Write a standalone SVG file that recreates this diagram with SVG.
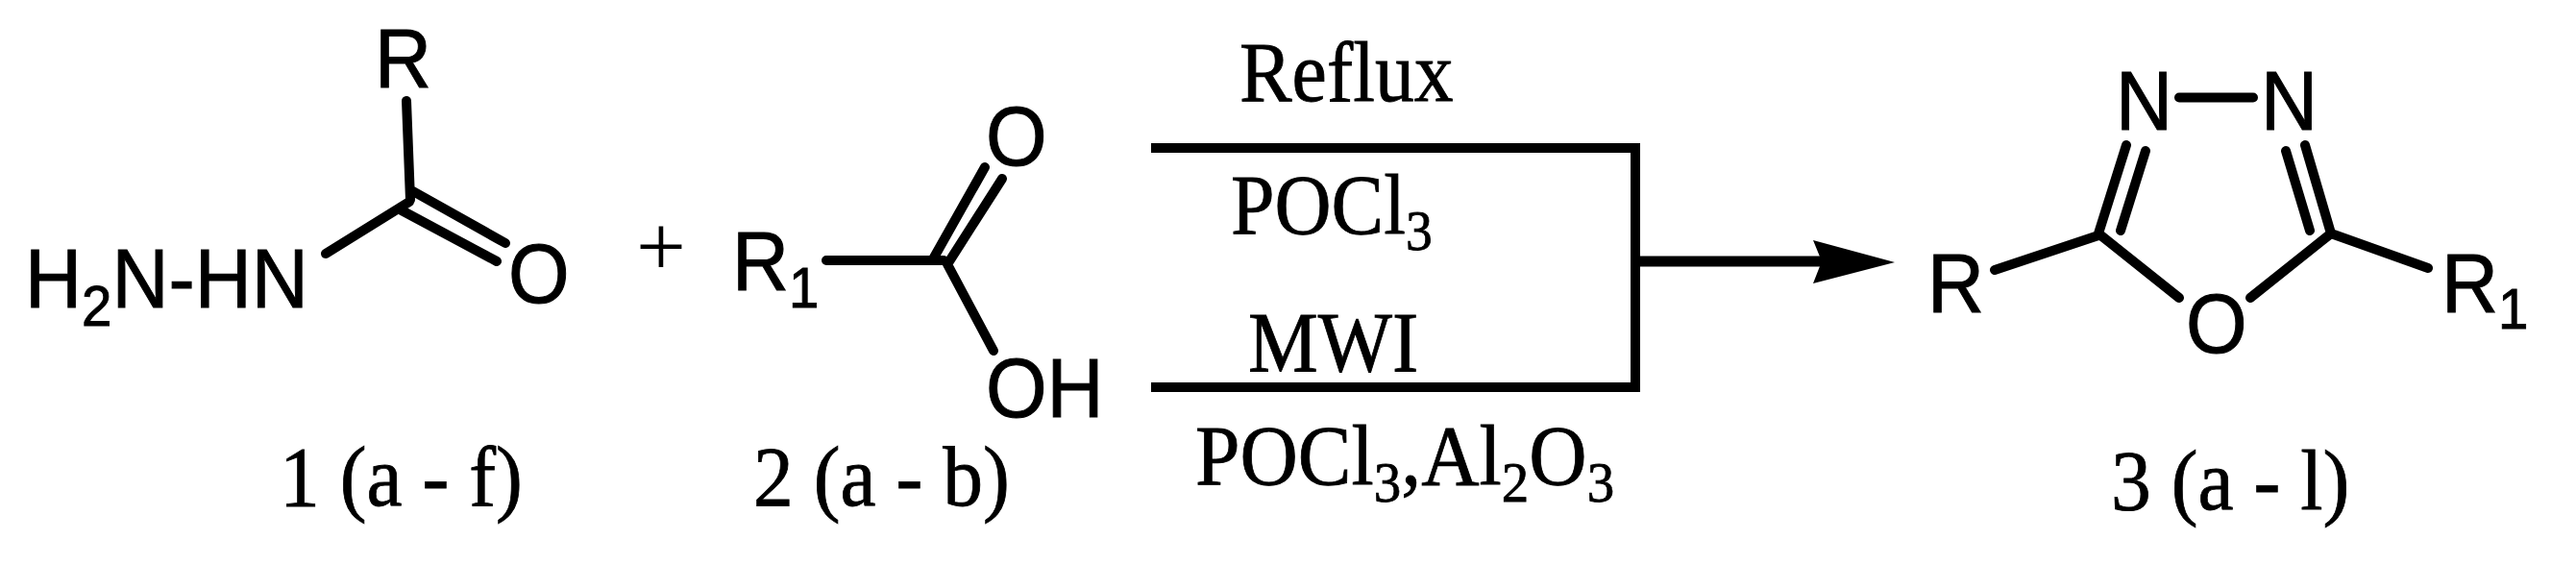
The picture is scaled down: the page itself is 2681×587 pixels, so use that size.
<svg xmlns="http://www.w3.org/2000/svg" width="2681" height="587" viewBox="0 0 2681 587">
<style>
.a{font-family:"Liberation Sans",Arial,sans-serif;font-size:87px;fill:#000;stroke:#000;stroke-width:1}
.t{font-family:"Liberation Serif","Times New Roman",serif;font-size:88px;fill:#000;stroke:#000;stroke-width:.8}
.s{font-size:60px}
.b{stroke:#000;stroke-width:10;fill:none;stroke-linecap:round}
</style>
<rect width="2681" height="587" fill="#fff"/>
<g id="connectors" class="b">
<path d="M423 105L427 208M426 210L339 264M428 198L526 253M418 219L517 272"/>
<path d="M860 271H982M972 268L1025 174M988 272L1043 186M986 275L1034 365"/>
<path d="M1198 154H1702V403H1198" stroke-linecap="butt" stroke-linejoin="miter"/>
<path d="M1702 272H1897" stroke-linecap="butt" stroke-width="11"/>
<path d="M2076 281L2184 245M2184 243L2268 310M2426 243L2342 310M2426 243L2527 279M2268 101.5H2345M2184 243L2213 151M2207 240L2233 157M2426 243L2399 151M2404 240L2379 157"/>
</g>
<path id="arrowhead" d="M1972 273L1887 250L1896 272L1887 295Z" fill="#000"/>
<g id="compound-1">
<text class="a" transform="matrix(.94 0 0 1 390 91)">R</text>
<text class="a" transform="matrix(.94 0 0 1 26 320)">H<tspan class="s" dy="19">2</tspan><tspan dy="-19">N-HN</tspan></text>
<text class="a" transform="matrix(.94 0 0 1 529 315)">O</text>
<text class="t" transform="matrix(.95 0 0 1 291 526)">1 (a - f)</text>
</g>
<text id="plus" class="t" style="font-size:92px;stroke:none" x="662" y="287">+</text>
<g id="compound-2">
<text class="a" transform="matrix(.94 0 0 1 762 302)">R<tspan class="s" dy="18">1</tspan></text>
<text class="a" transform="matrix(.94 0 0 1 1026 172)">O</text>
<text class="a" transform="matrix(.94 0 0 1 1026 434)">OH</text>
<text class="t" transform="matrix(.95 0 0 1 784 526)">2 (a - b)</text>
</g>
<g id="conditions">
<text class="t" transform="matrix(.93 0 0 1 1290 105)">Reflux</text>
<text class="t" transform="matrix(.93 0 0 1 1281 243)">POCl<tspan class="s" dy="17">3</tspan></text>
<text class="t" transform="matrix(.93 0 0 1 1299 386)">MWI</text>
<text class="t" transform="matrix(.95 0 0 1 1244 504)">POCl<tspan class="s" dy="18">3</tspan><tspan dy="-18">,Al</tspan><tspan class="s" dy="18">2</tspan><tspan dy="-18">O</tspan><tspan class="s" dy="18">3</tspan></text>
</g>
<g id="compound-3">
<text class="a" transform="matrix(.94 0 0 1 2202 135)">N</text>
<text class="a" transform="matrix(.94 0 0 1 2353 135)">N</text>
<text class="a" transform="matrix(.94 0 0 1 2275 367)">O</text>
<text class="a" transform="matrix(.94 0 0 1 2006 325)">R</text>
<text class="a" transform="matrix(.94 0 0 1 2541 325)">R<tspan class="s" dy="17">1</tspan></text>
<text class="t" transform="matrix(.95 0 0 1 2197 530)">3 (a - l)</text>
</g>
</svg>
